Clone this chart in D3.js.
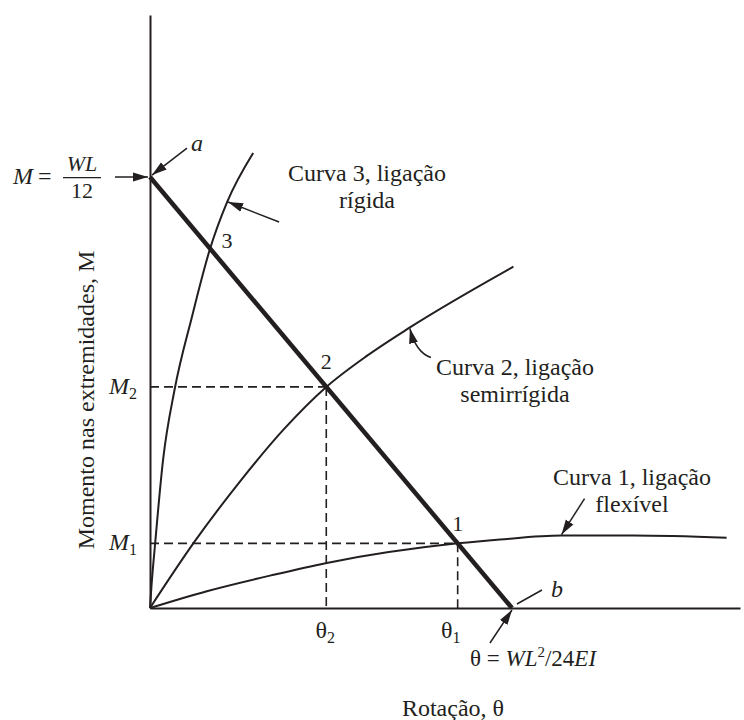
<!DOCTYPE html>
<html>
<head>
<meta charset="utf-8">
<script src="https://cdn.jsdelivr.net/npm/d3@7"></script>
<style>
  body { margin: 0; background: #fff; }
  svg text { fill: #231f20; }
</style>
</head>
<body>
<div id="chart"></div>
<script>
// values, theta in units of WL^2/24EI, M in units of WL/12
const beamLine = [[0, 1], [1, 0]];
const curve1 = [[0, 0], [0.157, 0.039], [0.341, 0.077], [0.485, 0.104], [0.85, 0.15], [0.967, 0.159], [1.137, 0.168], [1.335, 0.168], [1.593, 0.163]];
const curve2 = [[0, 0], [0.124, 0.155], [0.25, 0.295], [0.37, 0.415], [0.487, 0.513], [0.599, 0.585], [0.718, 0.651], [1.004, 0.792]];
const curve3 = [[0, 0], [0.004, 0.05], [0.014, 0.148], [0.036, 0.343], [0.068, 0.507], [0.116, 0.676], [0.166, 0.834], [0.213, 0.942], [0.285, 1.056]];
const crossings = [
    { label: '1', theta: 0.85, m: 0.15 },
    { label: '2', theta: 0.487, m: 0.513 },
    { label: '3', theta: 0.166, m: 0.834 }
];
const thetaTicks = [{ sub: '2', value: 0.487 }, { sub: '1', value: 0.85 }];
const momentTicks = [{ sub: '2', value: 0.513 }, { sub: '1', value: 0.15 }];
const curveNames = [
    ['Curva 3, ligação', 'rígida'],
    ['Curva 2, ligação', 'semirrígida'],
    ['Curva 1, ligação', 'flexível']
];

const W = 744, H = 720;
const ink = '#231f20';
const serif = "'Liberation Serif', 'Times New Roman', Times, serif";

const svg = d3.select('#chart')
    .append('svg')
    .attr('width', W)
    .attr('height', H)
    .attr('font-family', serif);

const x = d3.scaleLinear().domain([0, 1.63]).range([150, 740]);
const y = d3.scaleLinear().domain([0, 1.376]).range([608, 15]);

// arrow head
svg.append('defs')
    .append('marker')
    .attr('id', 'head')
    .attr('viewBox', '0 -5 15 10')
    .attr('refX', 15)
    .attr('refY', 0)
    .attr('markerWidth', 15)
    .attr('markerHeight', 10)
    .attr('markerUnits', 'userSpaceOnUse')
    .attr('orient', 'auto')
    .append('path')
    .attr('d', 'M0,-4.5L15,0L0,4.5Z')
    .attr('fill', ink);

// axes, no ticks
svg.append('g')
    .attr('transform', `translate(0, ${y(0)})`)
    .call(d3.axisBottom(x).tickValues([]).tickSizeOuter(0))
    .select('.domain').attr('stroke', ink).attr('stroke-width', 2);
svg.append('g')
    .attr('transform', `translate(${x(0)}, 0)`)
    .call(d3.axisLeft(y).tickValues([]).tickSizeOuter(0))
    .select('.domain').attr('stroke', ink).attr('stroke-width', 2);

// dashed guides for points 1 and 2
const guides = crossings.filter(d => d.label !== '3');
svg.selectAll('.hguide')
    .data(guides)
    .enter()
    .append('line')
    .attr('x1', x(0)).attr('x2', d => x(d.theta))
    .attr('y1', d => y(d.m)).attr('y2', d => y(d.m))
    .attr('stroke', ink).attr('stroke-width', 1.6).attr('stroke-dasharray', '9,5');
svg.selectAll('.vguide')
    .data(guides)
    .enter()
    .append('line')
    .attr('x1', d => x(d.theta)).attr('x2', d => x(d.theta))
    .attr('y1', d => y(d.m)).attr('y2', y(0))
    .attr('stroke', ink).attr('stroke-width', 1.6).attr('stroke-dasharray', '9,5');

// connection curves
const curveLine = d3.line()
    .x(d => x(d[0]))
    .y(d => y(d[1]))
    .curve(d3.curveMonotoneX);
svg.selectAll('.curve')
    .data([curve1, curve2, curve3])
    .enter()
    .append('path')
    .attr('d', curveLine)
    .attr('fill', 'none')
    .attr('stroke', ink)
    .attr('stroke-width', 2);

// beam line a-b
svg.append('path')
    .datum(beamLine)
    .attr('d', d3.line().x(d => x(d[0])).y(d => y(d[1])))
    .attr('stroke', ink)
    .attr('stroke-width', 4.5)
    .attr('fill', 'none');

// point numbers
const numOffsets = { '1': [0, -12], '2': [0, -18], '3': [17, -1] };
svg.selectAll('.num')
    .data(crossings)
    .enter()
    .append('text')
    .attr('x', d => x(d.theta) + numOffsets[d.label][0])
    .attr('y', d => y(d.m) + numOffsets[d.label][1])
    .attr('text-anchor', 'middle')
    .attr('font-size', 22)
    .text(d => d.label);

// theta tick labels
const tt = svg.selectAll('.ttick')
    .data(thetaTicks)
    .enter()
    .append('text')
    .attr('x', (d, i) => x(d.value) + (i === 0 ? -1 : -7))
    .attr('y', 638)
    .attr('text-anchor', 'middle')
    .attr('font-size', 24);
tt.append('tspan').text('θ');
tt.append('tspan').attr('font-size', 16).attr('dy', 5).text(d => d.sub);

// moment tick labels
const mt = svg.selectAll('.mtick')
    .data(momentTicks)
    .enter()
    .append('text')
    .attr('x', x(0) - 13)
    .attr('y', d => y(d.value) + 7)
    .attr('text-anchor', 'end')
    .attr('font-size', 24);
mt.append('tspan').attr('font-style', 'italic').text('M');
mt.append('tspan').attr('font-size', 16).attr('dy', 5).text(d => d.sub);

// M = WL/12 at point a
const ya = y(1);
const frac = svg.append('g');
frac.append('text').attr('x', 13).attr('y', ya + 7).attr('font-size', 24).attr('font-style', 'italic').text('M');
frac.append('text').attr('x', 38).attr('y', ya + 7).attr('font-size', 24).text('=');
frac.append('text').attr('x', 82).attr('y', ya - 6).attr('font-size', 22).attr('font-style', 'italic').attr('text-anchor', 'middle').text('WL');
frac.append('line').attr('x1', 63).attr('x2', 101).attr('y1', ya + 0.5).attr('y2', ya + 0.5).attr('stroke', ink).attr('stroke-width', 1.3);
frac.append('text').attr('x', 82).attr('y', ya + 21).attr('font-size', 22).attr('text-anchor', 'middle').text('12');

// arrows
function arrow(x1, y1, x2, y2) {
    svg.append('line')
        .attr('x1', x1).attr('y1', y1).attr('x2', x2).attr('y2', y2)
        .attr('stroke', ink).attr('stroke-width', 1.5)
        .attr('marker-end', 'url(#head)');
}
arrow(115, ya, x(0) - 2, ya);
arrow(x(0) + 37, ya - 29, x(0) + 2, ya - 2);
arrow(x(0.213) + 52, y(0.942) + 20, x(0.213) + 1, y(0.942));
arrow(x(1.137) + 23, y(0.168) - 37, x(1.137), y(0.168) - 1);
arrow(x(1) - 22, y(0) + 35, x(1), y(0) + 2);
// curved pointer to curve 2
svg.append('path')
    .attr('d', `M${x(0.718) + 21},${y(0.651) + 30} Q${x(0.718) + 6},${y(0.651) + 25} ${x(0.718)},${y(0.651) + 1}`)
    .attr('fill', 'none')
    .attr('stroke', ink).attr('stroke-width', 1.5)
    .attr('marker-end', 'url(#head)');
// plain leader to b
svg.append('line')
    .attr('x1', x(1) + 5).attr('y1', y(0) - 4)
    .attr('x2', x(1) + 30).attr('y2', y(0) - 18)
    .attr('stroke', ink).attr('stroke-width', 1.5);

// letters a and b
svg.append('text').attr('x', 191).attr('y', 151).attr('font-size', 24).attr('font-style', 'italic').text('a');
svg.append('text').attr('x', 551).attr('y', 597).attr('font-size', 24).attr('font-style', 'italic').text('b');

// theta at b
const tb = svg.append('text').attr('x', 470).attr('y', 666).attr('font-size', 23);
tb.append('tspan').text('θ = ');
tb.append('tspan').attr('font-style', 'italic').text('WL');
tb.append('tspan').attr('font-size', 15).attr('dy', -9).text('2');
tb.append('tspan').attr('dy', 9).text('/24');
tb.append('tspan').attr('font-style', 'italic').text('EI');

// curve names
const namePos = [[367, 181], [515, 375], [632, 485]];
curveNames.forEach((lines, i) => {
    const t = svg.append('text')
        .attr('x', namePos[i][0])
        .attr('y', namePos[i][1])
        .attr('text-anchor', 'middle')
        .attr('font-size', 24);
    lines.forEach((s, j) => {
        t.append('tspan')
            .attr('x', namePos[i][0])
            .attr('dy', j === 0 ? 0 : 27)
            .text(s);
    });
});

// axis titles
svg.append('text')
    .attr('x', 453).attr('y', 716)
    .attr('text-anchor', 'middle')
    .attr('font-size', 24)
    .text('Rotação, θ');
svg.append('text')
    .attr('transform', 'translate(94, 400) rotate(-90)')
    .attr('text-anchor', 'middle')
    .attr('font-size', 24)
    .text('Momento nas extremidades, M');
</script>
</body>
</html>
